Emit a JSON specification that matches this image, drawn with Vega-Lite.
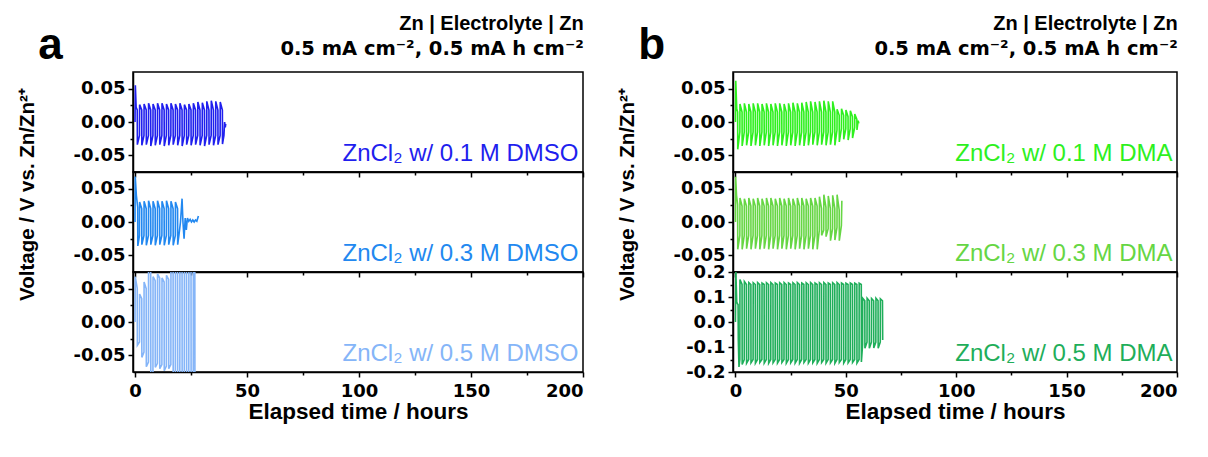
{
"$schema": "https://vega.github.io/schema/vega-lite/v6.json",
"padding": {"left": 16, "top": 12, "right": 5, "bottom": 5},
"background": "white",
"config": {
 "font": "Liberation Sans",
 "view": {"stroke": "black", "strokeWidth": 1.5},
 "axis": {"domainColor": "black", "domainWidth": 1.5, "tickColor": "black", "tickWidth": 1.5, "labelFont": "DejaVu Sans", "labelFontWeight": "bold", "labelFontSize": 18, "labelColor": "black", "titleFont": "Liberation Sans", "titleFontWeight": "bold", "titleColor": "black", "grid": false, "tickSize": 5},
 "title": {"font": "Liberation Sans", "color": "black"}
},
"datasets": {
"a1": [{"t":0,"v":0},{"t":0.15,"v":0.055},{"t":0.5,"v":0.022},{"t":1,"v":0.018},{"t":1.05,"v":-0.034},{"t":2,"v":-0.02},
{"t":2.05,"v":0.026},{"t":3,"v":0.018},{"t":3.05,"v":-0.035},{"t":4,"v":-0.02},
{"t":4.05,"v":0.027},{"t":5,"v":0.018},{"t":5.05,"v":-0.034},{"t":6,"v":-0.02},
{"t":6.05,"v":0.028},{"t":7,"v":0.018},{"t":7.05,"v":-0.036},{"t":8,"v":-0.02},
{"t":8.05,"v":0.027},{"t":9,"v":0.018},{"t":9.05,"v":-0.035},{"t":10,"v":-0.02},
{"t":10.05,"v":0.028},{"t":11,"v":0.018},{"t":11.05,"v":-0.034},{"t":12,"v":-0.02},
{"t":12.05,"v":0.028},{"t":13,"v":0.018},{"t":13.05,"v":-0.036},{"t":14,"v":-0.02},
{"t":14.05,"v":0.027},{"t":15,"v":0.018},{"t":15.05,"v":-0.035},{"t":16,"v":-0.02},
{"t":16.05,"v":0.028},{"t":17,"v":0.018},{"t":17.05,"v":-0.034},{"t":18,"v":-0.02},
{"t":18.05,"v":0.027},{"t":19,"v":0.018},{"t":19.05,"v":-0.035},{"t":20,"v":-0.02},
{"t":20.05,"v":0.028},{"t":21,"v":0.018},{"t":21.05,"v":-0.036},{"t":22,"v":-0.02},
{"t":22.05,"v":0.026},{"t":23,"v":0.018},{"t":23.05,"v":-0.034},{"t":24,"v":-0.02},
{"t":24.05,"v":0.027},{"t":25,"v":0.018},{"t":25.05,"v":-0.035},{"t":26,"v":-0.02},
{"t":26.05,"v":0.028},{"t":27,"v":0.018},{"t":27.05,"v":-0.034},{"t":28,"v":-0.02},
{"t":28.05,"v":0.03},{"t":29,"v":0.018},{"t":29.05,"v":-0.035},{"t":30,"v":-0.02},
{"t":30.05,"v":0.029},{"t":31,"v":0.018},{"t":31.05,"v":-0.036},{"t":32,"v":-0.02},
{"t":32.05,"v":0.031},{"t":33,"v":0.018},{"t":33.05,"v":-0.034},{"t":34,"v":-0.02},
{"t":34.05,"v":0.032},{"t":35,"v":0.018},{"t":35.05,"v":-0.035},{"t":36,"v":-0.02},
{"t":36.05,"v":0.031},{"t":37,"v":0.018},{"t":37.05,"v":-0.034},{"t":38,"v":-0.02},
{"t":38.05,"v":0.03},{"t":39,"v":0.018},{"t":39.05,"v":-0.033},{"t":39.7,"v":-0.02},
{"t":40,"v":0},{"t":40.3,"v":-0.008},{"t":40.5,"v":-0.003}],
"a2": [{"t":0,"v":0},{"t":0.1,"v":0.068},{"t":0.6,"v":0.04},{"t":1.2,"v":0.022},{"t":1.25,"v":-0.036},{"t":2,"v":-0.02},
{"t":2.05,"v":0.03},{"t":3,"v":0.02},{"t":3.05,"v":-0.034},{"t":4,"v":-0.02},
{"t":4.05,"v":0.031},{"t":5,"v":0.02},{"t":5.05,"v":-0.035},{"t":6,"v":-0.02},
{"t":6.05,"v":0.032},{"t":7,"v":0.02},{"t":7.05,"v":-0.034},{"t":8,"v":-0.02},
{"t":8.05,"v":0.031},{"t":9,"v":0.02},{"t":9.05,"v":-0.035},{"t":10,"v":-0.02},
{"t":10.05,"v":0.032},{"t":11,"v":0.02},{"t":11.05,"v":-0.034},{"t":12,"v":-0.02},
{"t":12.05,"v":0.031},{"t":13,"v":0.02},{"t":13.05,"v":-0.035},{"t":14,"v":-0.02},
{"t":14.05,"v":0.032},{"t":15,"v":0.02},{"t":15.05,"v":-0.034},{"t":16,"v":-0.02},
{"t":16.05,"v":0.031},{"t":17,"v":0.02},{"t":17.05,"v":-0.035},{"t":18,"v":-0.02},
{"t":18.05,"v":0.03},{"t":19,"v":0.02},{"t":19.05,"v":-0.034},{"t":19.6,"v":-0.02},
{"t":20.3,"v":0},{"t":21,"v":0.035},{"t":21.4,"v":0},{"t":21.9,"v":-0.025},{"t":22.4,"v":0.006},{"t":22.9,"v":-0.012},
{"t":23.4,"v":0.006},{"t":24,"v":0.001},{"t":24.6,"v":0.004},{"t":25.2,"v":0},{"t":25.8,"v":0.003},{"t":26.4,"v":0},
{"t":27,"v":0.003},{"t":27.6,"v":0.001},{"t":28.3,"v":0.009}],
"a3": [{"t":0,"v":0},{"t":0.1,"v":0.068},{"t":1,"v":0.05},{"t":1.05,"v":-0.035},{"t":2,"v":-0.03},
{"t":2.05,"v":0.042},{"t":3,"v":0.035},{"t":3.05,"v":-0.053},{"t":4,"v":-0.045},
{"t":4.05,"v":0.06},{"t":5,"v":0.05},{"t":5.05,"v":-0.067},{"t":6,"v":-0.06},
{"t":6.05,"v":0.09},{"t":7,"v":0.08},{"t":7.05,"v":-0.085},{"t":8,"v":-0.078},
{"t":8.05,"v":0.068},{"t":9,"v":0.062},{"t":9.05,"v":-0.068},{"t":10,"v":-0.062},
{"t":10.05,"v":0.072},{"t":11,"v":0.066},{"t":11.05,"v":-0.07},{"t":12,"v":-0.064},
{"t":12.05,"v":0.066},{"t":13,"v":0.06},{"t":13.05,"v":-0.073},{"t":14,"v":-0.066},
{"t":14.05,"v":0.07},{"t":15,"v":0.064},{"t":15.05,"v":-0.07},{"t":16,"v":-0.064},
{"t":16.05,"v":0.1},{"t":17,"v":0.09},{"t":17.05,"v":-0.1},{"t":18,"v":-0.09},
{"t":18.05,"v":0.1},{"t":19,"v":0.09},{"t":19.05,"v":-0.1},{"t":20,"v":-0.09},
{"t":20.05,"v":0.1},{"t":21,"v":0.09},{"t":21.05,"v":-0.1},{"t":22,"v":-0.09},
{"t":22.05,"v":0.1},{"t":23,"v":0.09},{"t":23.05,"v":-0.1},{"t":24,"v":-0.09},
{"t":24.05,"v":0.1},{"t":25,"v":0.09},{"t":25.05,"v":-0.1},{"t":26,"v":-0.09},
{"t":26.05,"v":0.1},{"t":26.7,"v":0.09},{"t":26.75,"v":-0.1}],
"b1": [{"t":0,"v":0},{"t":0.15,"v":0.062},{"t":0.6,"v":0.02},{"t":1,"v":0.015},{"t":1.05,"v":-0.041},{"t":2,"v":-0.015},
{"t":2.05,"v":0.027},{"t":3,"v":0.015},{"t":3.05,"v":-0.036},{"t":4,"v":-0.015},
{"t":4.05,"v":0.028},{"t":5,"v":0.015},{"t":5.05,"v":-0.035},{"t":6,"v":-0.015},
{"t":6.05,"v":0.027},{"t":7,"v":0.015},{"t":7.05,"v":-0.036},{"t":8,"v":-0.015},
{"t":8.05,"v":0.028},{"t":9,"v":0.015},{"t":9.05,"v":-0.035},{"t":10,"v":-0.015},
{"t":10.05,"v":0.028},{"t":11,"v":0.015},{"t":11.05,"v":-0.036},{"t":12,"v":-0.015},
{"t":12.05,"v":0.027},{"t":13,"v":0.015},{"t":13.05,"v":-0.035},{"t":14,"v":-0.015},
{"t":14.05,"v":0.028},{"t":15,"v":0.015},{"t":15.05,"v":-0.036},{"t":16,"v":-0.015},
{"t":16.05,"v":0.027},{"t":17,"v":0.015},{"t":17.05,"v":-0.035},{"t":18,"v":-0.015},
{"t":18.05,"v":0.028},{"t":19,"v":0.015},{"t":19.05,"v":-0.036},{"t":20,"v":-0.015},
{"t":20.05,"v":0.028},{"t":21,"v":0.015},{"t":21.05,"v":-0.035},{"t":22,"v":-0.015},
{"t":22.05,"v":0.027},{"t":23,"v":0.015},{"t":23.05,"v":-0.036},{"t":24,"v":-0.015},
{"t":24.05,"v":0.028},{"t":25,"v":0.015},{"t":25.05,"v":-0.035},{"t":26,"v":-0.015},
{"t":26.05,"v":0.029},{"t":27,"v":0.015},{"t":27.05,"v":-0.036},{"t":28,"v":-0.015},
{"t":28.05,"v":0.028},{"t":29,"v":0.015},{"t":29.05,"v":-0.035},{"t":30,"v":-0.015},
{"t":30.05,"v":0.029},{"t":31,"v":0.015},{"t":31.05,"v":-0.036},{"t":32,"v":-0.015},
{"t":32.05,"v":0.03},{"t":33,"v":0.015},{"t":33.05,"v":-0.035},{"t":34,"v":-0.015},
{"t":34.05,"v":0.031},{"t":35,"v":0.015},{"t":35.05,"v":-0.034},{"t":36,"v":-0.015},
{"t":36.05,"v":0.03},{"t":37,"v":0.015},{"t":37.05,"v":-0.035},{"t":38,"v":-0.015},
{"t":38.05,"v":0.031},{"t":39,"v":0.015},{"t":39.05,"v":-0.034},{"t":40,"v":-0.015},
{"t":40.05,"v":0.032},{"t":41,"v":0.015},{"t":41.05,"v":-0.035},{"t":42,"v":-0.015},
{"t":42.05,"v":0.031},{"t":43,"v":0.015},{"t":43.05,"v":-0.034},{"t":44,"v":-0.015},
{"t":44.05,"v":0.031},{"t":45,"v":0.015},{"t":45.05,"v":-0.035},{"t":46,"v":-0.012},
{"t":46.05,"v":0.019},{"t":47,"v":0.01},{"t":47.05,"v":-0.03},{"t":48,"v":-0.01},
{"t":48.05,"v":0.02},{"t":49,"v":0.01},{"t":49.05,"v":-0.026},{"t":50,"v":-0.01},
{"t":50.05,"v":0.018},{"t":51,"v":0.008},{"t":51.05,"v":-0.027},{"t":52,"v":-0.01},
{"t":52.05,"v":0.017},{"t":53,"v":0.008},{"t":53.05,"v":-0.024},{"t":54,"v":-0.008},
{"t":54.05,"v":0.012},{"t":55,"v":0.004},{"t":55.05,"v":-0.012},{"t":55.6,"v":0.002},{"t":55.9,"v":-0.002}],
"b2": [{"t":0,"v":0},{"t":0.1,"v":0.068},{"t":0.5,"v":0.04},{"t":1,"v":0.026},{"t":1.05,"v":-0.041},{"t":2,"v":-0.02},
{"t":2.05,"v":0.036},{"t":3,"v":0.024},{"t":3.05,"v":-0.041},{"t":4,"v":-0.02},
{"t":4.05,"v":0.035},{"t":5,"v":0.024},{"t":5.05,"v":-0.04},{"t":6,"v":-0.02},
{"t":6.05,"v":0.036},{"t":7,"v":0.024},{"t":7.05,"v":-0.041},{"t":8,"v":-0.02},
{"t":8.05,"v":0.035},{"t":9,"v":0.024},{"t":9.05,"v":-0.04},{"t":10,"v":-0.02},
{"t":10.05,"v":0.036},{"t":11,"v":0.024},{"t":11.05,"v":-0.041},{"t":12,"v":-0.02},
{"t":12.05,"v":0.035},{"t":13,"v":0.024},{"t":13.05,"v":-0.04},{"t":14,"v":-0.02},
{"t":14.05,"v":0.036},{"t":15,"v":0.024},{"t":15.05,"v":-0.041},{"t":16,"v":-0.02},
{"t":16.05,"v":0.036},{"t":17,"v":0.024},{"t":17.05,"v":-0.04},{"t":18,"v":-0.02},
{"t":18.05,"v":0.035},{"t":19,"v":0.024},{"t":19.05,"v":-0.041},{"t":20,"v":-0.02},
{"t":20.05,"v":0.036},{"t":21,"v":0.024},{"t":21.05,"v":-0.04},{"t":22,"v":-0.02},
{"t":22.05,"v":0.035},{"t":23,"v":0.024},{"t":23.05,"v":-0.041},{"t":24,"v":-0.02},
{"t":24.05,"v":0.036},{"t":25,"v":0.024},{"t":25.05,"v":-0.04},{"t":26,"v":-0.02},
{"t":26.05,"v":0.035},{"t":27,"v":0.024},{"t":27.05,"v":-0.041},{"t":28,"v":-0.02},
{"t":28.05,"v":0.036},{"t":29,"v":0.024},{"t":29.05,"v":-0.04},{"t":30,"v":-0.02},
{"t":30.05,"v":0.036},{"t":31,"v":0.024},{"t":31.05,"v":-0.041},{"t":32,"v":-0.02},
{"t":32.05,"v":0.035},{"t":33,"v":0.024},{"t":33.05,"v":-0.04},{"t":34,"v":-0.02},
{"t":34.05,"v":0.036},{"t":35,"v":0.024},{"t":35.05,"v":-0.041},{"t":36,"v":-0.02},
{"t":36.05,"v":0.036},{"t":37,"v":0.024},{"t":37.05,"v":-0.041},{"t":38,"v":-0.012},
{"t":38.05,"v":0.038},{"t":39,"v":0.02},{"t":39.05,"v":-0.02},{"t":40,"v":-0.012},
{"t":40.05,"v":0.041},{"t":41,"v":0.022},{"t":41.05,"v":-0.022},{"t":42,"v":-0.01},
{"t":42.05,"v":0.039},{"t":43,"v":0.02},{"t":43.05,"v":-0.028},{"t":44,"v":-0.01},
{"t":44.05,"v":0.04},{"t":45,"v":0.02},{"t":45.05,"v":-0.027},{"t":46,"v":-0.008},
{"t":46.05,"v":0.041},{"t":47,"v":0.018},{"t":47.05,"v":-0.028},{"t":48,"v":-0.005},{"t":48.2,"v":0.032}],
"b3": [{"t":0,"v":0},{"t":0.2,"v":0.2},{"t":0.6,"v":0.08},{"t":1,"v":0.072},{"t":1.2,"v":0.07},{"t":1.3,"v":-0.07},{"t":1.6,"v":-0.18},{"t":2,"v":-0.15},
{"t":2.05,"v":0.17},{"t":3,"v":0.15},{"t":3.05,"v":-0.17},{"t":4,"v":-0.15},
{"t":4.05,"v":0.162},{"t":5,"v":0.15},{"t":5.05,"v":-0.165},{"t":6,"v":-0.15},
{"t":6.05,"v":0.158},{"t":7,"v":0.15},{"t":7.05,"v":-0.163},{"t":8,"v":-0.15},
{"t":8.05,"v":0.157},{"t":9,"v":0.15},{"t":9.05,"v":-0.165},{"t":10,"v":-0.15},
{"t":10.05,"v":0.158},{"t":11,"v":0.15},{"t":11.05,"v":-0.162},{"t":12,"v":-0.15},
{"t":12.05,"v":0.156},{"t":13,"v":0.15},{"t":13.05,"v":-0.164},{"t":14,"v":-0.15},
{"t":14.05,"v":0.157},{"t":15,"v":0.15},{"t":15.05,"v":-0.165},{"t":16,"v":-0.15},
{"t":16.05,"v":0.158},{"t":17,"v":0.15},{"t":17.05,"v":-0.163},{"t":18,"v":-0.15},
{"t":18.05,"v":0.156},{"t":19,"v":0.15},{"t":19.05,"v":-0.164},{"t":20,"v":-0.15},
{"t":20.05,"v":0.157},{"t":21,"v":0.15},{"t":21.05,"v":-0.162},{"t":22,"v":-0.15},
{"t":22.05,"v":0.158},{"t":23,"v":0.15},{"t":23.05,"v":-0.165},{"t":24,"v":-0.15},
{"t":24.05,"v":0.156},{"t":25,"v":0.15},{"t":25.05,"v":-0.163},{"t":26,"v":-0.15},
{"t":26.05,"v":0.157},{"t":27,"v":0.15},{"t":27.05,"v":-0.164},{"t":28,"v":-0.15},
{"t":28.05,"v":0.158},{"t":29,"v":0.15},{"t":29.05,"v":-0.165},{"t":30,"v":-0.15},
{"t":30.05,"v":0.156},{"t":31,"v":0.15},{"t":31.05,"v":-0.162},{"t":32,"v":-0.15},
{"t":32.05,"v":0.157},{"t":33,"v":0.15},{"t":33.05,"v":-0.164},{"t":34,"v":-0.15},
{"t":34.05,"v":0.158},{"t":35,"v":0.15},{"t":35.05,"v":-0.163},{"t":36,"v":-0.15},
{"t":36.05,"v":0.156},{"t":37,"v":0.15},{"t":37.05,"v":-0.165},{"t":38,"v":-0.15},
{"t":38.05,"v":0.157},{"t":39,"v":0.15},{"t":39.05,"v":-0.162},{"t":40,"v":-0.15},
{"t":40.05,"v":0.158},{"t":41,"v":0.15},{"t":41.05,"v":-0.164},{"t":42,"v":-0.15},
{"t":42.05,"v":0.156},{"t":43,"v":0.15},{"t":43.05,"v":-0.163},{"t":44,"v":-0.15},
{"t":44.05,"v":0.157},{"t":45,"v":0.15},{"t":45.05,"v":-0.165},{"t":46,"v":-0.15},
{"t":46.05,"v":0.158},{"t":47,"v":0.15},{"t":47.05,"v":-0.162},{"t":48,"v":-0.15},
{"t":48.05,"v":0.156},{"t":49,"v":0.15},{"t":49.05,"v":-0.164},{"t":50,"v":-0.15},
{"t":50.05,"v":0.155},{"t":51,"v":0.15},{"t":51.05,"v":-0.163},{"t":52,"v":-0.15},
{"t":52.05,"v":0.156},{"t":53,"v":0.15},{"t":53.05,"v":-0.162},{"t":54,"v":-0.15},
{"t":54.05,"v":0.155},{"t":55,"v":0.15},{"t":55.05,"v":-0.164},{"t":56,"v":-0.15},
{"t":56.05,"v":0.155},{"t":57,"v":0.15},{"t":57.05,"v":-0.16},{"t":57.6,"v":-0.09},
{"t":57.65,"v":0.095},{"t":58.6,"v":0.085},{"t":58.65,"v":-0.105},{"t":59.6,"v":-0.08},
{"t":59.65,"v":0.095},{"t":60.6,"v":0.085},{"t":60.65,"v":-0.105},{"t":61.6,"v":-0.08},
{"t":61.65,"v":0.094},{"t":62.6,"v":0.085},{"t":62.65,"v":-0.104},{"t":63.6,"v":-0.08},
{"t":63.65,"v":0.095},{"t":64.6,"v":0.085},{"t":64.65,"v":-0.105},{"t":65.6,"v":-0.08},
{"t":65.65,"v":0.093},{"t":66.6,"v":0.085},{"t":66.7,"v":-0.072}]
},
"spacing": 31,
"hconcat": [
{
 "title": {"text": "a", "anchor": "start", "fontSize": 44, "fontWeight": "bold", "offset": 0, "dx": 22, "dy": 55},
 "spacing": 0, "bounds": "flush",
 "vconcat": [
  {"width": 450, "height": 100, "data": {"name": "a1"},
   "title": {"text": "Zn | Electrolyte | Zn", "subtitle": "0.5 mA cm⁻², 0.5 mA h cm⁻²", "anchor": "end", "fontSize": 20, "fontWeight": "bold", "subtitleFont": "DejaVu Sans", "subtitleFontSize": 19.5, "subtitleFontWeight": "bold", "subtitleColor": "black", "subtitlePadding": 6, "offset": 14},
   "layer": [
    {"mark": {"type": "line", "color": "#1f1fee", "strokeWidth": 1.6, "clip": true},
     "encoding": {"x": {"field": "t", "type": "quantitative", "scale": {"domain": [-0.9, 200], "nice": false}, "axis": {"orient": "bottom", "values": [0,50,100,150,200], "labels": false, "title": null}},
                  "y": {"field": "v", "type": "quantitative", "scale": {"domain": [-0.075, 0.075], "nice": false}, "axis": {"orient": "left", "values": [-0.05,0,0.05], "labelExpr": "replace(format(datum.value,'.2f'),'\u2212','-')", "labelPadding": 3, "title": null}}}},
    {"data": {"values": [{}]},
     "mark": {"type": "text", "align": "right", "baseline": "alphabetic", "fontSize": 24, "font": "Liberation Sans", "color": "#1f1fee"},
     "encoding": {"x": {"datum": 198, "type": "quantitative", "axis": {"orient": "bottom", "values": [25,75,125,175], "labels": false, "domain": false, "tickSize": 3, "title": null}},
                  "y": {"datum": -0.058, "type": "quantitative", "axis": {"orient": "left", "values": [-0.025,0.025], "labels": false, "domain": false, "tickSize": 3, "title": null}},
                  "text": {"value": "ZnCl₂ w/ 0.1 M DMSO"}}}
   ],
   "resolve": {"axis": {"x": "independent", "y": "independent"}}
  },
  {"width": 450, "height": 100, "data": {"name": "a2"},
   "layer": [
    {"mark": {"type": "line", "color": "#2288f0", "strokeWidth": 1.6, "clip": true},
     "encoding": {"x": {"field": "t", "type": "quantitative", "scale": {"domain": [-0.9, 200], "nice": false}, "axis": {"orient": "bottom", "values": [0,50,100,150,200], "labels": false, "title": null}},
                  "y": {"field": "v", "type": "quantitative", "scale": {"domain": [-0.075, 0.075], "nice": false}, "axis": {"orient": "left", "values": [-0.05,0,0.05], "labelExpr": "replace(format(datum.value,'.2f'),'\u2212','-')", "labelPadding": 3, "title": "Voltage / V vs. Zn/Zn²⁺", "titleFontSize": 20.5, "titleY": 22, "titlePadding": 36}}}},
    {"data": {"values": [{}]},
     "mark": {"type": "text", "align": "right", "baseline": "alphabetic", "fontSize": 24, "font": "Liberation Sans", "color": "#2288f0"},
     "encoding": {"x": {"datum": 198, "type": "quantitative", "axis": {"orient": "bottom", "values": [25,75,125,175], "labels": false, "domain": false, "tickSize": 3, "title": null}},
                  "y": {"datum": -0.058, "type": "quantitative", "axis": {"orient": "left", "values": [-0.025,0.025], "labels": false, "domain": false, "tickSize": 3, "title": null}},
                  "text": {"value": "ZnCl₂ w/ 0.3 M DMSO"}}}
   ],
   "resolve": {"axis": {"x": "independent", "y": "independent"}}
  },
  {"width": 450, "height": 100, "data": {"name": "a3"},
   "layer": [
    {"mark": {"type": "line", "color": "#85b5f8", "strokeWidth": 1.6, "clip": true},
     "encoding": {"x": {"field": "t", "type": "quantitative", "scale": {"domain": [-0.9, 200], "nice": false}, "axis": {"orient": "bottom", "values": [0,50,100,150,200], "labelPadding": 5, "title": "Elapsed time / hours", "titleFontSize": 22.5, "titlePadding": 0}},
                  "y": {"field": "v", "type": "quantitative", "scale": {"domain": [-0.075, 0.075], "nice": false}, "axis": {"orient": "left", "values": [-0.05,0,0.05], "labelExpr": "replace(format(datum.value,'.2f'),'\u2212','-')", "labelPadding": 3, "title": null}}}},
    {"data": {"values": [{}]},
     "mark": {"type": "text", "align": "right", "baseline": "alphabetic", "fontSize": 24, "font": "Liberation Sans", "color": "#85b5f8"},
     "encoding": {"x": {"datum": 198, "type": "quantitative", "axis": {"orient": "bottom", "values": [25,75,125,175], "labels": false, "domain": false, "tickSize": 3, "title": null}},
                  "y": {"datum": -0.058, "type": "quantitative", "axis": {"orient": "left", "values": [-0.025,0.025], "labels": false, "domain": false, "tickSize": 3, "title": null}},
                  "text": {"value": "ZnCl₂ w/ 0.5 M DMSO"}}}
   ],
   "resolve": {"axis": {"x": "independent", "y": "independent"}}
  }
 ]
},
{
 "title": {"text": "b", "anchor": "start", "fontSize": 44, "fontWeight": "bold", "offset": 0, "dx": 22, "dy": 55},
 "spacing": 0, "bounds": "flush",
 "vconcat": [
  {"width": 444, "height": 100, "data": {"name": "b1"},
   "title": {"text": "Zn | Electrolyte | Zn", "subtitle": "0.5 mA cm⁻², 0.5 mA h cm⁻²", "anchor": "end", "fontSize": 20, "fontWeight": "bold", "subtitleFont": "DejaVu Sans", "subtitleFontSize": 19.5, "subtitleFontWeight": "bold", "subtitleColor": "black", "subtitlePadding": 6, "offset": 14},
   "layer": [
    {"mark": {"type": "line", "color": "#2ef01e", "strokeWidth": 1.6, "clip": true},
     "encoding": {"x": {"field": "t", "type": "quantitative", "scale": {"domain": [-1.1, 200], "nice": false}, "axis": {"orient": "bottom", "values": [0,50,100,150,200], "labels": false, "title": null}},
                  "y": {"field": "v", "type": "quantitative", "scale": {"domain": [-0.075, 0.075], "nice": false}, "axis": {"orient": "left", "values": [-0.05,0,0.05], "labelExpr": "replace(format(datum.value,'.2f'),'\u2212','-')", "labelPadding": 3, "title": null}}}},
    {"data": {"values": [{}]},
     "mark": {"type": "text", "align": "right", "baseline": "alphabetic", "fontSize": 24, "font": "Liberation Sans", "color": "#2ef01e"},
     "encoding": {"x": {"datum": 198, "type": "quantitative", "axis": {"orient": "bottom", "values": [25,75,125,175], "labels": false, "domain": false, "tickSize": 3, "title": null}},
                  "y": {"datum": -0.058, "type": "quantitative", "axis": {"orient": "left", "values": [-0.025,0.025], "labels": false, "domain": false, "tickSize": 3, "title": null}},
                  "text": {"value": "ZnCl₂ w/ 0.1 M DMA"}}}
   ],
   "resolve": {"axis": {"x": "independent", "y": "independent"}}
  },
  {"width": 444, "height": 100, "data": {"name": "b2"},
   "layer": [
    {"mark": {"type": "line", "color": "#66d644", "strokeWidth": 1.6, "clip": true},
     "encoding": {"x": {"field": "t", "type": "quantitative", "scale": {"domain": [-1.1, 200], "nice": false}, "axis": {"orient": "bottom", "values": [0,50,100,150,200], "labels": false, "title": null}},
                  "y": {"field": "v", "type": "quantitative", "scale": {"domain": [-0.075, 0.075], "nice": false}, "axis": {"orient": "left", "values": [-0.05,0,0.05], "labelExpr": "replace(format(datum.value,'.2f'),'\u2212','-')", "labelPadding": 3, "title": "Voltage / V vs. Zn/Zn²⁺", "titleFontSize": 20.5, "titleY": 22, "titlePadding": 36}}}},
    {"data": {"values": [{}]},
     "mark": {"type": "text", "align": "right", "baseline": "alphabetic", "fontSize": 24, "font": "Liberation Sans", "color": "#66d644"},
     "encoding": {"x": {"datum": 198, "type": "quantitative", "axis": {"orient": "bottom", "values": [25,75,125,175], "labels": false, "domain": false, "tickSize": 3, "title": null}},
                  "y": {"datum": -0.058, "type": "quantitative", "axis": {"orient": "left", "values": [-0.025,0.025], "labels": false, "domain": false, "tickSize": 3, "title": null}},
                  "text": {"value": "ZnCl₂ w/ 0.3 M DMA"}}}
   ],
   "resolve": {"axis": {"x": "independent", "y": "independent"}}
  },
  {"width": 444, "height": 100, "data": {"name": "b3"},
   "layer": [
    {"mark": {"type": "line", "color": "#1fae5a", "strokeWidth": 1.6, "clip": true},
     "encoding": {"x": {"field": "t", "type": "quantitative", "scale": {"domain": [-1.1, 200], "nice": false}, "axis": {"orient": "bottom", "values": [0,50,100,150,200], "labelPadding": 5, "title": "Elapsed time / hours", "titleFontSize": 22.5, "titlePadding": 0}},
                  "y": {"field": "v", "type": "quantitative", "scale": {"domain": [-0.2, 0.2], "nice": false}, "axis": {"orient": "left", "values": [-0.2,-0.1,0,0.1,0.2], "labelExpr": "replace(format(datum.value,'.1f'),'\u2212','-')", "labelPadding": 3, "title": null}}}},
    {"data": {"values": [{}]},
     "mark": {"type": "text", "align": "right", "baseline": "alphabetic", "fontSize": 24, "font": "Liberation Sans", "color": "#1fae5a"},
     "encoding": {"x": {"datum": 198, "type": "quantitative", "axis": {"orient": "bottom", "values": [25,75,125,175], "labels": false, "domain": false, "tickSize": 3, "title": null}},
                  "y": {"datum": -0.155, "type": "quantitative", "axis": {"orient": "left", "values": [-0.15,-0.05,0.05,0.15], "labels": false, "domain": false, "tickSize": 3, "title": null}},
                  "text": {"value": "ZnCl₂ w/ 0.5 M DMA"}}}
   ],
   "resolve": {"axis": {"x": "independent", "y": "independent"}}
  }
 ]
}
]
}
